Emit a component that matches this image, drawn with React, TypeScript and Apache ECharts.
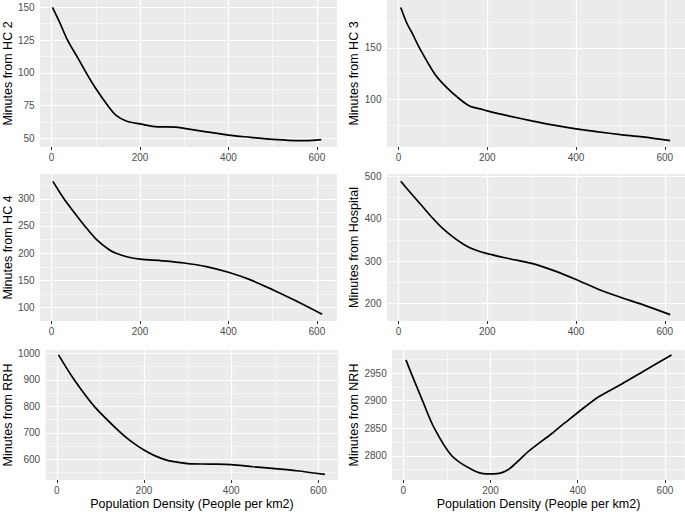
import React, { useEffect, useRef } from "react";
import * as echarts from "echarts";

const FONT = "'Liberation Sans', Arial, Helvetica, sans-serif";

const xTitle = "Population Density (People per km2)";
const xMajor = [0, 200, 400, 600];
const xMinor = [100, 300, 500];

// HC 2
const hc2X = [2, 19, 36, 60, 80, 100, 127, 146, 170, 200, 240, 280, 300, 350, 400, 450, 500, 550, 575, 610];
const hc2Y = [150, 138, 125, 111, 99, 88, 75, 67.5, 63, 61, 58.8, 58.6, 57.6, 55, 52.5, 50.8, 49.2, 48.3, 48.2, 49];
// HC 3
const hc3X = [5, 19, 31, 47, 82, 110, 139, 161, 184, 200, 250, 300, 350, 400, 450, 500, 550, 612];
const hc3Y = [189, 173.5, 164, 150, 124.5, 111, 100, 93.5, 91, 89, 84, 79.4, 75.2, 71.6, 68.7, 66.1, 63.9, 60.3];
// HC 4
const hc4X = [3, 28, 52, 75, 103, 131, 146, 172, 200, 250, 300, 350, 400, 450, 500, 550, 612];
const hc4Y = [332, 300, 274, 250, 224, 206, 200, 193, 189, 186, 182, 175.5, 165, 151, 133, 113.5, 88];
// Hospital
const hospX = [5, 25, 50, 75, 100, 127, 150, 172, 200, 250, 300, 350, 400, 450, 500, 550, 612];
const hospY = [489, 464, 434, 404, 377, 354, 338, 327, 318, 306, 295, 278, 257, 234, 215, 197.6, 174];
// RRH
const rrhX = [4, 40, 86, 147, 177, 200, 223, 250, 269, 300, 350, 400, 450, 500, 550, 615];
const rrhY = [994, 900, 800, 700, 660, 635, 615, 598, 591, 584, 582, 580, 572, 565, 557, 543];
// NRH
const nrhX = [6, 18, 44, 71, 111, 157, 190, 220, 241, 260, 287, 340, 371, 417, 450, 500, 550, 615];
const nrhY = [2974, 2950, 2900, 2850, 2800, 2775, 2767, 2768, 2775, 2788, 2808, 2840, 2860, 2889, 2908, 2930, 2953, 2983];

const panels = [
  { title: "Minutes from HC 2", xs: hc2X, ys: hc2Y, left: 38.5, top: 0, width: 298.5, height: 147, xMin: -26, xMax: 645.5, yMin: 43.4, yMax: 155.6, yMajor: [50, 75, 100, 125, 150], yMinor: [62.5, 87.5, 112.5, 137.5], nameGap: 21.5, showX: false },
  { title: "Minutes from HC 3", xs: hc3X, ys: hc3Y, left: 387, top: 0, width: 298, height: 147, xMin: -26, xMax: 645.5, yMin: 54.1, yMax: 196.2, yMajor: [100, 150], yMinor: [75, 125, 175], nameGap: 23.5, showX: false },
  { title: "Minutes from HC 4", xs: hc4X, ys: hc4Y, left: 38.5, top: 174, width: 298.5, height: 147, xMin: -26, xMax: 645.5, yMin: 75.5, yMax: 345.5, yMajor: [100, 150, 200, 250, 300], yMinor: [125, 175, 225, 275, 325], nameGap: 21.5, showX: false },
  { title: "Minutes from Hospital", xs: hospX, ys: hospY, left: 387, top: 174, width: 298, height: 147, xMin: -26, xMax: 645.5, yMin: 159, yMax: 506, yMajor: [200, 300, 400, 500], yMinor: [250, 350, 450], nameGap: 25.5, showX: false },
  { title: "Minutes from RRH", xs: rrhX, ys: rrhY, left: 44.5, top: 350, width: 293.7, height: 130, xMin: -25.5, xMax: 645.5, yMin: 522, yMax: 1012.5, yMajor: [600, 700, 800, 900, 1000], yMinor: [550, 650, 750, 850, 950], nameGap: 29.7, showX: true },
  { title: "Minutes from NRH", xs: nrhX, ys: nrhY, left: 392.2, top: 350, width: 292.6, height: 130, xMin: -25.5, xMax: 645.5, yMin: 2756, yMax: 2992, yMajor: [2800, 2850, 2900, 2950], yMinor: [2775, 2825, 2875, 2925, 2975], nameGap: 30.7, showX: true },
];

const plain = (v: number) => String(v);

function buildOption() {
  const grid = panels.map((p) => ({
    left: p.left, top: p.top, width: p.width, height: p.height,
    show: true, backgroundColor: "#EBEBEB", borderWidth: 0, containLabel: false,
  }));
  const xAxis = panels.map((p, i) => ({
    type: "value", gridIndex: i, min: p.xMin, max: p.xMax,
    axisLine: { show: false },
    splitLine: { show: false },
    axisTick: { show: true, length: 3, lineStyle: { color: "#333333", width: 1 }, customValues: xMajor },
    axisLabel: { customValues: xMajor, formatter: plain, color: "#4D4D4D", fontSize: 10, margin: 5, fontFamily: FONT },
    name: p.showX ? xTitle : "",
    nameLocation: "middle", nameGap: 17.5,
    nameTextStyle: { color: "#000000", fontSize: 12.5, fontFamily: FONT },
  }));
  const yAxis = panels.map((p, i) => ({
    type: "value", gridIndex: i, min: p.yMin, max: p.yMax,
    axisLine: { show: false },
    splitLine: { show: false },
    axisTick: { show: true, length: 3, lineStyle: { color: "#333333", width: 1 }, customValues: p.yMajor },
    axisLabel: { customValues: p.yMajor, formatter: plain, color: "#4D4D4D", fontSize: 10, margin: 5.5, fontFamily: FONT },
    name: p.title, nameLocation: "middle", nameRotate: 90, nameGap: p.nameGap,
    nameTextStyle: { color: "#000000", fontSize: 12.5, fontFamily: FONT },
  }));
  const series: any[] = [];
  panels.forEach((p, i) => {
    const lines: any[] = [];
    xMinor.forEach((v) => lines.push({ xAxis: v, lineStyle: { color: "#FFFFFF", width: 0.6, type: "solid" } }));
    p.yMinor.forEach((v) => lines.push({ yAxis: v, lineStyle: { color: "#FFFFFF", width: 0.6, type: "solid" } }));
    xMajor.forEach((v) => lines.push({ xAxis: v, lineStyle: { color: "#FFFFFF", width: 1.2, type: "solid" } }));
    p.yMajor.forEach((v) => lines.push({ yAxis: v, lineStyle: { color: "#FFFFFF", width: 1.2, type: "solid" } }));
    series.push({
      type: "line", xAxisIndex: i, yAxisIndex: i, data: [], z: 1, silent: true,
      markLine: { silent: true, symbol: ["none", "none"], label: { show: false }, emphasis: { disabled: true }, data: lines, animation: false },
    });
    series.push({
      type: "line", xAxisIndex: i, yAxisIndex: i, z: 5, silent: true,
      data: p.xs.map((x, k) => [x, p.ys[k]]),
      showSymbol: false, symbol: "none", smooth: 0.3,
      lineStyle: { color: "#000000", width: 1.7 },
    });
  });
  return { animation: false, backgroundColor: "#FFFFFF", grid, xAxis, yAxis, series };
}

export default function App() {
  const ref = useRef<HTMLDivElement>(null);
  useEffect(() => {
    if (!ref.current) return;
    const chart = echarts.init(ref.current, undefined, { renderer: "svg" });
    chart.setOption(buildOption() as any);
    return () => chart.dispose();
  }, []);
  return <div ref={ref} style={{ position: "absolute", left: 0, top: 0, width: 685, height: 512 }} />;
}
